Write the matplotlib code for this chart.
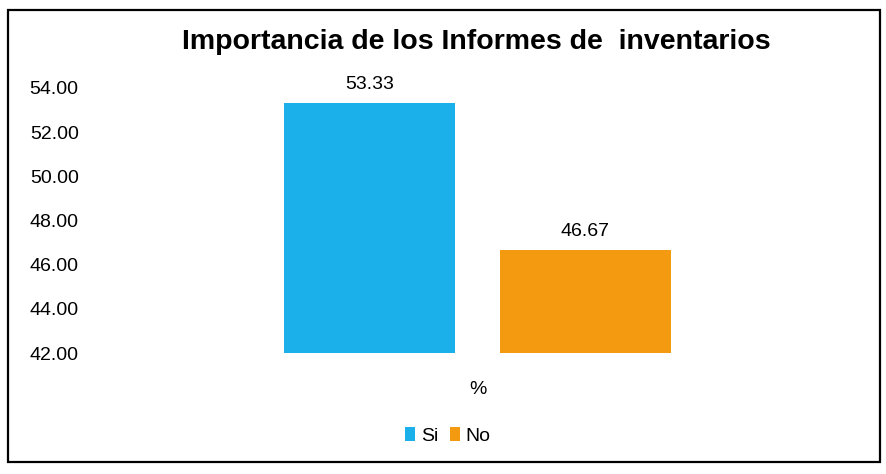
import matplotlib
matplotlib.use("Agg")
import matplotlib.pyplot as plt
from matplotlib.patches import Rectangle

plt.rcParams['font.family'] = ['Liberation Sans Narrow', 'Liberation Sans', 'DejaVu Sans']

title = "Importancia de los Informes de  inventarios"
category = "%"
series = ["Si", "No"]
values = [53.33, 46.67]
colors = ["#1cb0ea", "#f49a10"]
yticks = [42, 44, 46, 48, 50, 52, 54]

fig = plt.figure(figsize=(8.87, 4.74), dpi=100)
W, H = 887, 474

# outer chart frame
fig.patches.append(Rectangle((8 / W, 12 / H), 872 / W, 452 / H, transform=fig.transFigure,
                             fill=False, edgecolor="black", linewidth=1.6))

ax = fig.add_axes([80 / W, (H - 353) / H, 796 / W, 265 / H])

offsets = [-0.272, 0.270]
width = 0.43
for name, val, col, off in zip(series, values, colors, offsets):
    ax.bar(off, val - 42, bottom=42, width=width, color=col, label=name)
    ax.text(off, val + 0.45, "%.2f" % val, ha="center", va="bottom", fontsize=14)

ax.set_xlim(-1, 1)
ax.set_ylim(42, 54)
ax.set_yticks(yticks)
ax.set_yticklabels(["%.2f" % t for t in yticks], fontsize=14)
ax.tick_params(axis="y", length=0, pad=1)
ax.set_xticks([0])
ax.set_xticklabels([category], fontsize=14)
ax.tick_params(axis="x", length=0, pad=20)
for s in ax.spines.values():
    s.set_visible(False)

fig.text(476 / W, (H - 42) / H, title, ha="center", va="center",
         fontsize=20.5, fontweight="bold")

ax.legend(loc="center", bbox_to_anchor=(448 / W, (H - 436) / H),
          bbox_transform=fig.transFigure, ncol=2, frameon=False, fontsize=14,
          handlelength=0.5, handleheight=0.7, handletextpad=0.3, columnspacing=0.6)

fig.savefig("out.png", dpi=100)
